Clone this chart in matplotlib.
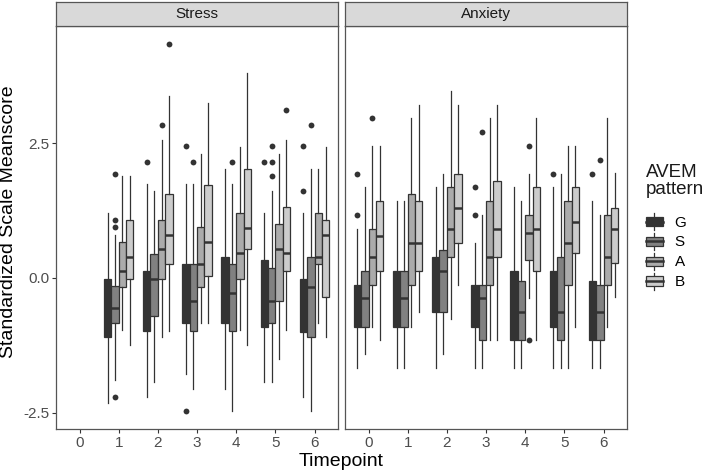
import numpy as np
import matplotlib
matplotlib.use("Agg")
import matplotlib.pyplot as plt
from matplotlib.patches import Rectangle, Patch
from matplotlib.lines import Line2D
from matplotlib.legend_handler import HandlerBase

plt.rcParams['font.family'] = ['Liberation Sans', 'DejaVu Sans']

nan = np.nan
timepoints = [0, 1, 2, 3, 4, 5, 6]
patterns = ['G', 'S', 'A', 'B']
fills = ['#333333', '#818181', '#ABABAB', '#CCCCCC']
facets = ['Stress', 'Anxiety']

# rows = G, S, A, B ; columns = timepoint 0..6 (Stress has no timepoint 0)
stress_q1 = [[nan, -1.10, -0.98, -0.84, -0.84, -0.91, -1.01],
             [nan, -0.84, -0.70, -0.98, -0.98, -0.84, -1.10],
             [nan, -0.16, -0.02, -0.16, -0.02, -0.43, 0.26],
             [nan, -0.02, 0.26, 0.04, 0.53, 0.12, -0.36]]
stress_med = [[nan, -0.55, -0.45, -0.40, -0.28, -0.40, -0.40],
              [nan, -0.56, -0.02, -0.42, -0.28, -0.42, -0.16],
              [nan, 0.12, 0.53, 0.26, 0.46, 0.53, 0.39],
              [nan, 0.39, 0.80, 0.67, 0.93, 0.46, 0.80]]
stress_q3 = [[nan, -0.02, 0.12, 0.26, 0.39, 0.33, -0.02],
             [nan, -0.14, 0.44, 0.26, 0.26, 0.19, 0.39],
             [nan, 0.67, 1.07, 0.94, 1.20, 1.00, 1.20],
             [nan, 1.07, 1.55, 1.72, 2.02, 1.31, 1.07]]
stress_lo = [[nan, -2.32, -2.20, -1.78, -2.06, -1.92, -2.20],
             [nan, -1.90, -1.92, -2.06, -2.46, -1.92, -2.46],
             [nan, -0.96, -1.10, -0.84, -0.96, -1.51, -0.84],
             [nan, -1.24, -0.98, -0.84, -1.24, -0.96, -1.10]]
stress_hi = [[nan, 1.20, 1.74, 1.74, 2.02, 1.20, 1.20],
             [nan, 0.80, 1.61, 1.74, 1.74, 1.61, 2.02],
             [nan, 1.89, 2.56, 2.30, 2.42, 2.29, 2.02],
             [nan, 1.89, 3.37, 3.25, 3.79, 2.56, 2.42]]
stress_out = [[[], [], [2.15], [2.44, -2.46], [], [2.15], [2.44, 1.61]],
              [[], [1.93, 1.07, 0.94, -2.20], [], [2.15], [2.15], [2.44, 2.15, 1.89], [2.84]],
              [[], [], [2.84], [], [], [], []],
              [[], [], [4.33], [], [], [3.11], []]]

anx_q1 = [[-0.90, -0.90, -0.64, -0.90, -1.15, -0.90, -1.15],
          [-0.90, -0.90, -0.64, -1.15, -1.15, -1.15, -1.15],
          [-0.13, -0.13, 0.39, -0.13, 0.33, -0.13, -0.13],
          [0.13, 0.13, 0.65, 0.39, 0.13, 0.46, 0.27]]
anx_med = [[-0.38, -0.38, 0.00, -0.38, -0.64, -0.38, -0.64],
           [-0.38, -0.38, 0.13, -0.38, -0.64, -0.64, -0.64],
           [0.39, 0.65, 0.90, 0.39, 0.83, 0.65, 0.39],
           [0.77, 0.65, 1.30, 0.90, 0.90, 1.03, 0.91]]
anx_q3 = [[-0.13, 0.13, 0.39, -0.13, 0.13, 0.13, -0.06],
          [0.13, 0.13, 0.52, -0.13, -0.06, 0.39, -0.13],
          [0.90, 1.55, 1.68, 1.42, 1.16, 1.42, 1.16],
          [1.42, 1.42, 1.93, 1.80, 1.68, 1.68, 1.29]]
anx_lo = [[-1.67, -1.67, -1.67, -1.67, -1.67, -1.67, -1.67],
          [-1.41, -1.67, -1.41, -1.67, -1.67, -1.67, -1.67],
          [-0.90, -0.90, -0.77, -1.15, -0.38, -1.67, -0.90],
          [-1.15, -0.64, -0.13, -1.15, -1.15, -0.90, -0.35]]
anx_hi = [[0.90, 1.42, 1.68, 0.64, 1.68, 1.68, 1.42],
          [1.68, 1.42, 1.93, 1.16, 1.42, 1.93, 1.16],
          [2.44, 2.96, 3.47, 2.96, 1.93, 2.44, 2.96],
          [2.44, 3.21, 3.21, 3.21, 2.96, 2.44, 1.94]]
anx_out = [[[1.93, 1.16], [], [], [1.68, 1.16], [], [1.93], [1.93]],
           [[], [], [], [2.70], [], [], [2.19]],
           [[2.96], [], [], [], [2.44, -1.15], [], []],
           [[], [], [], [], [], [], []]]

edge = '#333333'
box_w = 0.75 / 4
W, H = 709, 474


def draw_panel(ax, q1, med, q3, lo, hi, out):
    for g in range(len(patterns)):
        stats, pos = [], []
        for t in timepoints:
            if np.isnan(med[g][t]):
                continue
            stats.append(dict(q1=q1[g][t], med=med[g][t], q3=q3[g][t],
                              whislo=lo[g][t], whishi=hi[g][t], fliers=out[g][t]))
            pos.append(t + (g - 1.5) * box_w)
        ax.bxp(stats, positions=pos, widths=box_w, patch_artist=True, showcaps=False,
               boxprops=dict(facecolor=fills[g], edgecolor=edge, linewidth=0.9),
               whiskerprops=dict(color=edge, linewidth=0.9),
               medianprops=dict(color=edge, linewidth=1.8),
               flierprops=dict(marker='o', markerfacecolor=edge, markeredgecolor='none',
                               markersize=4.2))


all_vals = [v for arr in (stress_lo, stress_hi, anx_lo, anx_hi) for row in arr for v in row]
all_vals += [v for arr in (stress_out, anx_out) for row in arr for c in row for v in c]
vmin, vmax = np.nanmin(all_vals), np.nanmax(all_vals)
pad = 0.05 * (vmax - vmin)

fig = plt.figure(figsize=(W / 100, H / 100), dpi=100)
panel_x = [56, 345]
panel_w = 282
top, bottom = 26, 429

panel_data = [(stress_q1, stress_med, stress_q3, stress_lo, stress_hi, stress_out),
              (anx_q1, anx_med, anx_q3, anx_lo, anx_hi, anx_out)]

for i, name in enumerate(facets):
    ax = fig.add_axes([panel_x[i] / W, (H - bottom) / H, panel_w / W, (bottom - top) / H])
    draw_panel(ax, *panel_data[i])
    ax.set_xlim(-0.6, 6.6)
    ax.set_ylim(vmin - pad, vmax + pad)
    ax.set_xticks(timepoints)
    ax.set_xticklabels([str(t) for t in timepoints])
    ax.set_yticks([-2.5, 0.0, 2.5])
    ax.set_yticklabels(['-2.5', '0.0', '2.5'])
    ax.tick_params(colors='#333333', labelcolor='#4D4D4D', labelsize=11, length=3, width=0.8, pad=2)
    if i > 0:
        ax.tick_params(axis='y', left=False, labelleft=False)
    for s in ax.spines.values():
        s.set_color('#555555')
        s.set_linewidth(0.9)

    strip = fig.add_axes([panel_x[i] / W, (H - top) / H, panel_w / W, 24 / H])
    strip.set_facecolor('#D9D9D9')
    strip.set_xticks([])
    strip.set_yticks([])
    for s in strip.spines.values():
        s.set_color('#555555')
        s.set_linewidth(0.9)
    strip.text(0.5, 0.5, name, ha='center', va='center', fontsize=11, color='#1A1A1A',
               transform=strip.transAxes)

fig.text((panel_x[0] + panel_x[1] + panel_w) / 2 / W, 1 - 461 / H, 'Timepoint',
         ha='center', va='center', fontsize=14)
fig.text(9 / W, 1 - 222 / H, 'Standardized Scale Meanscore',
         ha='center', va='center', rotation=90, fontsize=14)


class BoxKey(HandlerBase):
    def create_artists(self, legend, orig_handle, xdescent, ydescent, width, height, fontsize, trans):
        x0, y0 = -xdescent, -ydescent
        xm = x0 + width / 2
        box = Rectangle((x0 + 0.1 * width, y0 + 0.25 * height), 0.8 * width, 0.5 * height,
                        facecolor=orig_handle.get_facecolor(), edgecolor=edge, lw=0.9, transform=trans)
        w1 = Line2D([xm, xm], [y0 + 0.05 * height, y0 + 0.25 * height], color=edge, lw=0.9, transform=trans)
        w2 = Line2D([xm, xm], [y0 + 0.75 * height, y0 + 0.95 * height], color=edge, lw=0.9, transform=trans)
        md = Line2D([x0 + 0.1 * width, x0 + 0.9 * width], [y0 + 0.5 * height] * 2, color=edge, lw=1.8,
                    transform=trans)
        return [w1, w2, box, md]


# legend title as its own text so the gap to the keys matches ggplot
fig.text(646 / W, 1 - 164 / H, 'AVEM\npattern', ha='left', va='top', fontsize=13.5,
         linespacing=1.0, color='#1A1A1A')
handles = [Patch(facecolor=c, edgecolor=edge) for c in fills]
leg = fig.legend(handles, patterns, handler_map={Patch: BoxKey()}, loc='upper left',
                 bbox_to_anchor=(644 / W, 1 - 212 / H), frameon=False,
                 fontsize=11, handlelength=1.35, handleheight=1.55, borderaxespad=0,
                 labelspacing=0.05, handletextpad=0.65, borderpad=0)

fig.savefig('out.png', dpi=100)
